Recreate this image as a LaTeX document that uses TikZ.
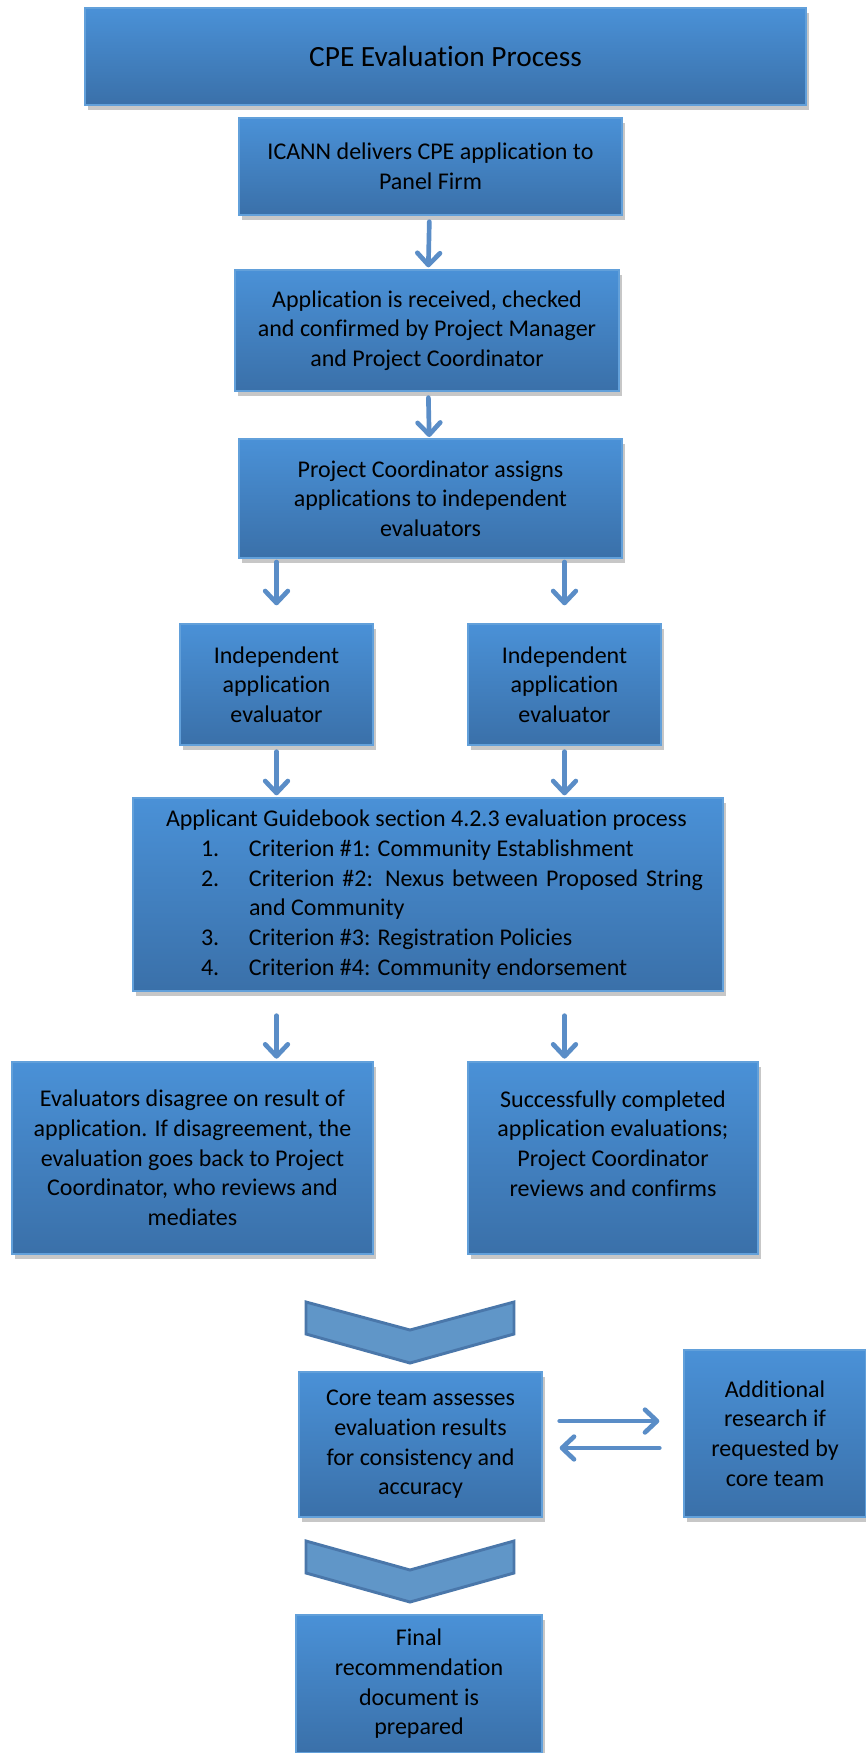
\documentclass[tikz,border=0pt]{standalone}
\usepackage{fontspec}
\setmainfont{Carlito}[Ligatures={NoCommon}]
\usetikzlibrary{arrows.meta,shadows,calc}
\definecolor{boxtop}{HTML}{4A91D7}
\definecolor{boxbot}{HTML}{3A70A9}
\definecolor{boxborder}{HTML}{62A0DA}
\definecolor{arrowc}{HTML}{5A8DC7}
\definecolor{chevfill}{HTML}{6096C8}
\definecolor{chevborder}{HTML}{4A77AA}
\tikzset{
  box/.style={draw=boxborder, line width=1pt, top color=boxtop, bottom color=boxbot,
    inner sep=0pt, align=center, text=black, font=\fontsize{18}{22.25}\selectfont,
    drop shadow={shadow xshift=2pt, shadow yshift=-3.5pt, opacity=0.22, fill=black}},
  arr/.style={draw=arrowc, line width=3.5pt, line cap=round,
    -{Straight Barb[length=9pt,width=17pt,round]}},
  chev/.style={draw=chevborder, fill=chevfill, line width=2.2pt, line join=miter},
}
\newcommand\bx[7][]{\node[box, minimum width={(#5-#3)*0.75pt}, minimum height={(#6-#4)*0.75pt}, #1] (#2) at ({(#3+#5)/2},{(#4+#6)/2}) {#7};}
\begin{document}
\begin{tikzpicture}[x=0.75pt,y=-0.75pt]
\useasboundingbox (0,0) rectangle (866,1753);
\bx[font=\fontsize{22}{26}\selectfont]{title}{85}{8}{806}{105}{CPE Evaluation Process}
\bx{icann}{239}{118}{622}{215}{ICANN delivers CPE application to\\Panel Firm}
\bx{recv}{235}{270}{619}{391}{Application is received, checked\\and confirmed by Project Manager\\and Project Coordinator}
\bx{assign}{239}{439}{622}{558}{Project Coordinator assigns\\applications to independent\\evaluators}
\bx{evala}{180}{624}{373}{745}{Independent\\application\\evaluator}
\bx{evalb}{468}{624}{661}{745}{Independent\\application\\evaluator}
\bx[text width=412.5pt, align=justify]{guide}{133}{798}{723}{991}{%
{\noindent\leftskip=9.75pt Applicant Guidebook section 4.2.3 evaluation process\par}%
{\leftskip=72pt
\noindent\llap{\makebox[36pt][l]{1.}}Criterion \#1: Community Establishment\par
\noindent\llap{\makebox[36pt][l]{2.}}Criterion \#2: Nexus between Proposed String\linebreak and Community\par
\noindent\llap{\makebox[36pt][l]{3.}}Criterion \#3: Registration Policies\par
\noindent\llap{\makebox[36pt][l]{4.}}Criterion \#4: Community endorsement\par}}
\bx{disagree}{12}{1062}{373}{1254}{Evaluators disagree on result of\\application. If disagreement, the\\evaluation goes back to Project\\Coordinator, who reviews and\\mediates}
\bx[text depth=22.25pt]{success}{468}{1062}{758}{1254}{Successfully completed\\application evaluations;\\Project Coordinator\\reviews and confirms}
\bx{core}{299}{1372}{542}{1517}{Core team assesses\\evaluation results\\for consistency and\\accuracy}
\bx{add}{684}{1350}{866}{1517}{Additional\\research if\\requested by\\core team}
\bx{final}{296}{1615}{542}{1753}{Final\\recommendation\\document is\\prepared}
% chevrons
\draw[chev] (306,1302) -- (410,1330) -- (514,1302) -- (514,1334) -- (410,1363) -- (306,1334) -- cycle;
\draw[chev] (306,1541) -- (410,1570) -- (514,1541) -- (514,1573) -- (410,1602) -- (306,1573) -- cycle;
% arrows
\draw[arr, shorten <=4.5pt, shorten >=1.5pt] (icann) -- (recv);
\draw[arr, shorten <=4.5pt, shorten >=1pt] (recv) -- (assign);
\draw[arr, shorten <=2.5pt, shorten >=13.5pt] (assign.south -| evala) -- (evala.north);
\draw[arr, shorten <=2.5pt, shorten >=13.5pt] (assign.south -| evalb) -- (evalb.north);
\draw[arr, shorten <=4.5pt, shorten >=1.5pt] (evala.south) -- (guide.north -| evala);
\draw[arr, shorten <=4.5pt, shorten >=1.5pt] (evalb.south) -- (guide.north -| evalb);
\draw[arr, shorten <=18pt, shorten >=2pt] (guide.south -| evala) -- (disagree.north -| evala);
\draw[arr, shorten <=18pt, shorten >=2pt] (guide.south -| evalb) -- (success.north -| evalb);
\coordinate (ra) at ([yshift=17.6pt]core.east);
\coordinate (la) at ([yshift=-2.6pt]core.east);
\draw[arr, shorten <=12.75pt, shorten >=18pt] (ra) -- (ra -| add.west);
\draw[arr, shorten <=18pt, shorten >=12.75pt] (la -| add.west) -- (la);
\end{tikzpicture}
\end{document}
